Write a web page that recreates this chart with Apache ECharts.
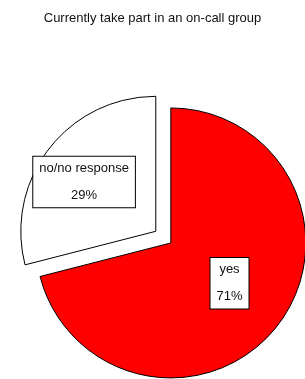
<!DOCTYPE html>
<html>
<head>
<meta charset="utf-8">
<script src="https://cdn.jsdelivr.net/npm/echarts@6/dist/echarts.min.js"></script>
<style>
  html, body { margin: 0; padding: 0; background: #fff; }
  #main { width: 305px; height: 379px; }
</style>
</head>
<body>
<div id="main"></div>
<script>
    // slices, clockwise from 12 o'clock
    var categories = ['yes', 'no/no response'];
    var values = [71, 29];
    var colors = ['#ff0000', '#ffffff'];
    var exploded = [false, true];

    var myChart = echarts.init(document.getElementById('main'));

    var pieData = [];
    for (var i = 0; i < categories.length; i++) {
        pieData.push({
            name: categories[i],
            value: values[i],
            selected: exploded[i],
            itemStyle: { color: colors[i] }
        });
    }

    var option = {
        backgroundColor: '#ffffff',
        animation: false,
        title: {
            text: 'Currently take part in an on-call group',
            left: 'center',
            top: 7,
            textStyle: {
                fontFamily: 'Liberation Sans, Arial, sans-serif',
                fontSize: 13,
                fontWeight: 'normal',
                color: '#111'
            }
        },
        series: [
            {
                type: 'pie',
                center: ['56%', '64.1%'],
                radius: 135,
                startAngle: 90,
                clockwise: true,
                selectedMode: 'multiple',
                selectedOffset: 19,
                data: pieData,
                itemStyle: {
                    borderColor: '#000',
                    borderWidth: 1
                },
                label: {
                    show: true,
                    position: 'inside',
                    formatter: '{b}\n\n{d}%',
                    fontFamily: 'Liberation Sans, Arial, sans-serif',
                    fontSize: 13,
                    lineHeight: 13.5,
                    color: '#111',
                    backgroundColor: '#fff',
                    borderColor: '#000',
                    borderWidth: 1,
                    borderRadius: 0,
                    padding: [5, 6]
                },
                labelLine: { show: false },
                labelLayout: function (params) {
                    // nudge the boxes to where they sit in the picture
                    if (params.dataIndex === 1) {
                        return { dx: -16, dy: -6 };
                    }
                    return { dx: 3, dy: -3 };
                },
                emphasis: { disabled: true }
            }
        ]
    };

    myChart.setOption(option);
</script>
</body>
</html>
